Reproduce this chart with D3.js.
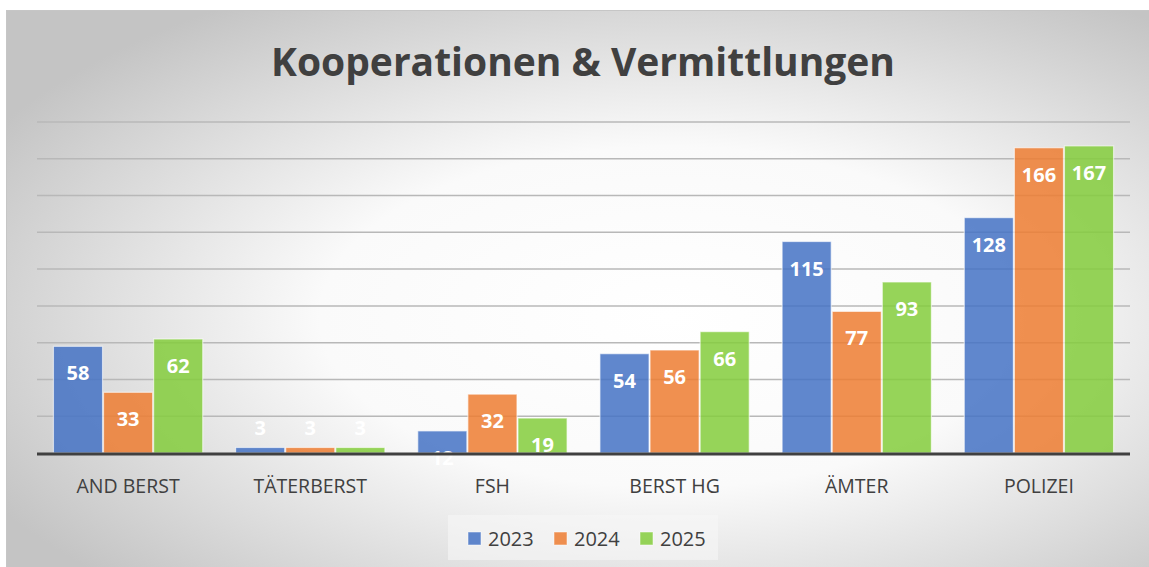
<!DOCTYPE html>
<meta charset="utf-8">
<title>Kooperationen &amp; Vermittlungen</title>
<style>
    body { margin: 0; background: #fff; }
    svg { display: block; }
    .grid line { stroke: #b8b8b8; stroke-width: 1.5px; }
    .cat { font-family: "Open Sans", "Noto Sans", sans-serif; font-size: 19.5px; fill: #404040; }
    .lbl { font-family: "Open Sans", "Noto Sans", sans-serif; font-size: 20px; font-weight: bold; fill: #fff; }
    .title { font-family: "Open Sans", "Noto Sans", sans-serif; font-size: 39px; font-weight: bold; fill: #404040; }
    .leg { font-family: "Open Sans", "Noto Sans", sans-serif; font-size: 20px; fill: #404040; }
</style>
<body>
<svg id="chart"></svg>
<script src="https://d3js.org/d3.v7.min.js"></script>
<script>
    // data
    var categories = ["AND BERST", "TÄTERBERST", "FSH", "BERST HG", "ÄMTER", "POLIZEI"];
    var years = ["2023", "2024", "2025"];
    var v2023 = [58, 3, 12, 54, 115, 128];
    var v2024 = [33, 3, 32, 56, 77, 166];
    var v2025 = [62, 3, 19, 66, 93, 167];
    var colors = ["#4472c4", "#ed7d31", "#84cc3c"];
    var yTicks = [0, 20, 40, 60, 80, 100, 120, 140, 160, 180];

    var series = [v2023, v2024, v2025];
    var W = 1149, H = 567;
    var plot = { left: 37, right: 1130, top: 122, bottom: 453 };

    var svg = d3.select("#chart").attr("width", W).attr("height", H);

    // background gradient
    var defs = svg.append("defs");
    var rg = defs.append("radialGradient").attr("id", "bg")
        .attr("cx", "0.58").attr("cy", "0.55").attr("r", "0.68");
    rg.append("stop").attr("offset", "0").attr("stop-color", "#ffffff");
    rg.append("stop").attr("offset", "0.45").attr("stop-color", "#fafafa");
    rg.append("stop").attr("offset", "1").attr("stop-color", "#c4c4c4");

    svg.append("rect")
        .attr("x", 6.5).attr("y", 10.5)
        .attr("width", W - 6).attr("height", H - 10)
        .attr("fill", "url(#bg)")
        .attr("stroke", "#c6c6c6");

    var y = d3.scaleLinear().domain([0, 180]).range([plot.bottom, plot.top]);
    var x0 = d3.scaleBand().domain(categories).range([plot.left, plot.right]).padding(0);
    var groupW = x0.step() * 0.825;
    var x1 = d3.scaleBand().domain(years).range([0, groupW]).padding(0);

    // gridlines
    svg.append("g").attr("class", "grid")
        .selectAll("line").data(yTicks.slice(1)).join("line")
        .attr("x1", plot.left).attr("x2", plot.right)
        .attr("y1", d => y(d)).attr("y2", d => y(d));

    // bars
    var groups = svg.append("g").selectAll("g").data(categories).join("g")
        .attr("transform", d => "translate(" + (x0(d) + (x0.step() - groupW) / 2) + ",0)");

    groups.each(function (cat, ci) {
        var g = d3.select(this);
        years.forEach(function (yr, si) {
            var val = series[si][ci];
            g.append("rect")
                .attr("x", x1(yr) + 0.5)
                .attr("y", y(val))
                .attr("width", x1.bandwidth() - 1)
                .attr("height", y(0) - y(val))
                .attr("fill", colors[si])
                .attr("fill-opacity", 0.85)
                .attr("stroke", "#ffffff")
                .attr("stroke-opacity", 0.6)
                .attr("stroke-width", 1.2);
            var ty = val < 10 ? y(val) - 12 : y(val) + 34;
            g.append("text")
                .attr("class", "lbl")
                .attr("x", x1(yr) + x1.bandwidth() / 2)
                .attr("y", ty)
                .attr("text-anchor", "middle")
                .text(val);
        });
    });

    // baseline
    svg.append("line")
        .attr("x1", plot.left).attr("x2", plot.right)
        .attr("y1", y(0) + 1).attr("y2", y(0) + 1)
        .attr("stroke", "#404040").attr("stroke-width", 3);

    // category labels
    svg.append("g").selectAll("text").data(categories).join("text")
        .attr("class", "cat")
        .attr("x", d => x0(d) + x0.bandwidth() / 2)
        .attr("y", 493)
        .attr("text-anchor", "middle")
        .text(d => d);

    // title
    svg.append("text").attr("class", "title")
        .attr("x", 583).attr("y", 76)
        .attr("text-anchor", "middle")
        .text("Kooperationen & Vermittlungen");

    // legend
    var leg = svg.append("g");
    leg.append("rect")
        .attr("x", 448).attr("y", 515).attr("width", 270).attr("height", 45)
        .attr("fill", "#f7f7f7").attr("fill-opacity", 0.6);
    var legX = [468, 554, 640];
    years.forEach(function (yr, i) {
        leg.append("rect")
            .attr("x", legX[i]).attr("y", 532)
            .attr("width", 13).attr("height", 13)
            .attr("fill", colors[i]).attr("fill-opacity", 0.85)
            .attr("stroke", "#fff").attr("stroke-opacity", 0.5);
        leg.append("text").attr("class", "leg")
            .attr("x", legX[i] + 20).attr("y", 546)
            .text(yr);
    });
</script>
</body>
